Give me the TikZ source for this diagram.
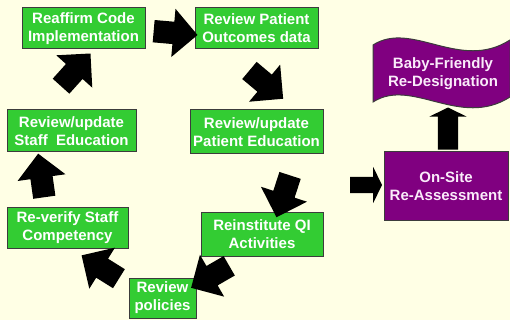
\documentclass[tikz,border=0pt]{standalone}
\usepackage{fontspec}
\setmainfont{Liberation Sans}
\usetikzlibrary{shapes.arrows}

\definecolor{paper}{RGB}{255,255,229}
\definecolor{stepgreen}{RGB}{51,204,51}
\definecolor{bfpurple}{RGB}{128,0,128}
\definecolor{edgegray}{RGB}{60,60,60}
\definecolor{palepink}{RGB}{250,235,250}

\tikzset{
  greenbox/.style={draw=edgegray, line width=1pt, fill=stepgreen, text=white,
    font=\bfseries\fontsize{15}{18}\selectfont, align=center, inner sep=0pt},
  purplebox/.style={greenbox, fill=bfpurple, text=palepink},
  cyclearrow/.style={single arrow, fill=black, inner xsep=0pt, inner ysep=11pt,
    minimum height=44pt, minimum width=48pt, single arrow head extend=13pt},
  sidearrow/.style={single arrow, fill=black, inner xsep=0pt, inner ysep=8pt,
    single arrow tip angle=128, minimum width=36pt, single arrow head extend=10pt}
}

\begin{document}
\begin{tikzpicture}[x=1pt, y=-1pt]
  \useasboundingbox (0,0) rectangle (510,320);
  \fill[paper] (0,0) rectangle (510,320);

  % the cycle
  \node[greenbox, minimum width=123pt, minimum height=41pt] (reaffirm) at (83.5,28.5) {Reaffirm Code\\Implementation};
  \node[greenbox, minimum width=123pt, minimum height=41pt] (outcomes) at (256.5,28.5) {Review Patient\\Outcomes data};
  \node[greenbox, minimum width=133pt, minimum height=44pt] (patiented) at (256.5,132) {Review/update\\Patient Education};
  \node[greenbox, minimum width=122pt, minimum height=44pt] (qi) at (262,234) {Reinstitute QI\\Activities};
  \node[greenbox, minimum width=67pt, minimum height=40pt] (policies) at (162.5,298) {Review\\policies};
  \node[greenbox, minimum width=121pt, minimum height=41pt] (reverify) at (67.5,227.5) {Re-verify Staff\\Competency};
  \node[greenbox, minimum width=129pt, minimum height=42pt] (staffed) at (71.5,131) {Review/update\\Staff\ \ Education};

  \node[cyclearrow, rotate=-5] (a1) at (170,32.6) {};
  \node[cyclearrow, rotate=-40] (a2) at (262,81) {};
  \node[cyclearrow, rotate=-108] (a3) at (285,191) {};
  \node[cyclearrow, rotate=210] (a4) at (215,274) {};
  \node[cyclearrow, rotate=148] (a5) at (105,270) {};
  \node[cyclearrow, rotate=98] (a6) at (42,181) {};
  \node[cyclearrow, rotate=48] (a7) at (72,74) {};

  % re-designation
  \node[purplebox, minimum width=124pt, minimum height=68pt] (onsite) at (446,186) {On-Site\\Re-Assessment};
  \filldraw[fill=bfpurple, draw=edgegray, line width=1pt]
    (373,45) .. controls (412,20) and (460,72) .. (510,40) -- (510,97)
    .. controls (460,129) and (412,77) .. (373,102) -- cycle;
  \node[font=\bfseries\fontsize{15}{18}\selectfont, text=palepink, align=center] (banner) at (443,74) {Baby-Friendly\\Re-Designation};

  \node[sidearrow, minimum height=32pt] (a8) at (364,185) {};
  \node[sidearrow, minimum height=42pt, inner ysep=10pt, minimum width=37pt, single arrow head extend=8.5pt, rotate=90] (a9) at (448,131) {};
\end{tikzpicture}
\end{document}
